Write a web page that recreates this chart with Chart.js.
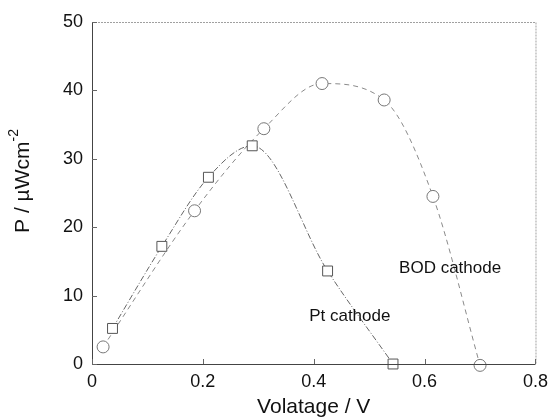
<!DOCTYPE html>
<html>
<head>
<meta charset="utf-8">
<script src="https://cdn.jsdelivr.net/npm/chart.js@4"></script>
<style>
  html, body { margin: 0; padding: 0; background: #fff; }
  #wrap { width: 555px; height: 420px; }
</style>
</head>
<body>
<div id="wrap"><canvas id="powerChart"></canvas></div>
<script>
// Pt cathode (squares)
const ptVoltage = [0.037, 0.126, 0.21, 0.289, 0.425, 0.543];
const ptPower = [5.2, 17.2, 27.3, 31.9, 13.6, 0];

// BOD cathode (circles)
const bodVoltage = [0.02, 0.185, 0.31, 0.415, 0.527, 0.615, 0.70];
const bodPower = [2.5, 22.4, 34.4, 41.0, 38.6, 24.5, -0.2];

const xTicks = [0, 0.2, 0.4, 0.6, 0.8];
const yTicks = [0, 10, 20, 30, 40, 50];

const notes = [
  { text: "BOD cathode", x: 0.646, y: 14.0 },
  { text: "Pt cathode", x: 0.465, y: 7.0 },
];

const FONT = "'Liberation Sans', Arial, sans-serif";

const toPoints = (xs, ys) => xs.map((x, i) => ({ x: x, y: ys[i] }));

// inward ticks, frame and text labels
const extrasPlugin = {
  id: "extras",
  afterDatasetsDraw(chart) {
    const ctx = chart.ctx;
    const area = chart.chartArea;
    const xs = chart.scales.x;
    const ys = chart.scales.y;
    ctx.save();
    // frame (top/right lighter)
    ctx.strokeStyle = "#a0a0a0";
    ctx.lineWidth = 1;
    ctx.setLineDash([2, 1]);
    ctx.beginPath();
    ctx.moveTo(area.left, area.top + 0.5);
    ctx.lineTo(area.right + 0.5, area.top + 0.5);
    ctx.lineTo(area.right + 0.5, area.bottom);
    ctx.stroke();
    ctx.setLineDash([]);
    ctx.strokeStyle = "#444";
    ctx.beginPath();
    ctx.moveTo(area.left + 0.5, area.top);
    ctx.lineTo(area.left + 0.5, area.bottom + 0.5);
    ctx.lineTo(area.right, area.bottom + 0.5);
    ctx.stroke();
    // ticks
    ctx.strokeStyle = "#666";
    ctx.beginPath();
    yTicks.forEach(v => {
      const p = Math.round(ys.getPixelForValue(v)) + 0.5;
      ctx.moveTo(area.left, p);
      ctx.lineTo(area.left + 5, p);
    });
    xTicks.forEach(v => {
      const p = Math.round(xs.getPixelForValue(v)) + 0.5;
      ctx.moveTo(p, area.bottom);
      ctx.lineTo(p, area.bottom - 5);
    });
    ctx.stroke();
    // annotations
    ctx.fillStyle = "#111";
    ctx.font = "17px " + FONT;
    ctx.textAlign = "center";
    ctx.textBaseline = "middle";
    notes.forEach(n => {
      ctx.fillText(n.text, xs.getPixelForValue(n.x), ys.getPixelForValue(n.y));
    });
    // y axis title with superscript
    ctx.translate(23, 181);
    ctx.rotate(-Math.PI / 2);
    const main = "P / \u00b5Wcm";
    const sup = "-2";
    ctx.font = "21px " + FONT;
    const wMain = ctx.measureText(main).width;
    ctx.font = "14px " + FONT;
    const wSup = ctx.measureText(sup).width;
    const start = -(wMain + wSup) / 2;
    ctx.textAlign = "left";
    ctx.font = "21px " + FONT;
    ctx.fillText(main, start, 0);
    ctx.font = "14px " + FONT;
    ctx.fillText(sup, start + wMain, -9);
    ctx.restore();
  },
};

const powerChart = new Chart(document.getElementById("powerChart"), {
  type: "line",
  data: {
    datasets: [
      {
        label: "Pt cathode",
        data: toPoints(ptVoltage, ptPower),
        borderColor: "#666",
        borderWidth: 1,
        borderDash: [6, 2, 1, 2],
        tension: 0.4,
        cubicInterpolationMode: "monotone",
        pointStyle: "rect",
        pointRadius: 7,
        pointBackgroundColor: "#fff",
        pointBorderColor: "#555",
        pointBorderWidth: 1,
        fill: false,
        clip: false,
      },
      {
        label: "BOD cathode",
        data: toPoints(bodVoltage, bodPower),
        borderColor: "#8a8a8a",
        borderWidth: 1,
        borderDash: [5, 4],
        tension: 0.4,
        cubicInterpolationMode: "monotone",
        pointStyle: "circle",
        pointRadius: 6,
        pointBackgroundColor: "#fff",
        pointBorderColor: "#777",
        pointBorderWidth: 1,
        fill: false,
        clip: false,
      },
    ],
  },
  options: {
    responsive: true,
    maintainAspectRatio: false,
    animation: false,
    layout: { padding: { top: 22, right: 17, left: 0, bottom: 0 } },
    plugins: {
      legend: { display: false },
      tooltip: { enabled: false },
    },
    scales: {
      x: {
        type: "linear",
        min: 0,
        max: 0.8,
        afterFit: (scale) => { scale.height = 56; },
        afterBuildTicks: (scale) => { scale.ticks = xTicks.map(v => ({ value: v })); },
        grid: { display: false, drawTicks: false },
        border: { display: false },
        ticks: {
          padding: 7,
          color: "#111",
          font: { size: 18, family: FONT },
          callback: (v) => (v === 0 ? "0" : v.toFixed(1)),
        },
        title: {
          display: true,
          text: "Volatage / V",
          color: "#111",
          padding: { top: 0, bottom: 0 },
          font: { size: 21, family: FONT },
        },
      },
      y: {
        type: "linear",
        min: 0,
        max: 50,
        afterFit: (scale) => { scale.width = 92; },
        afterBuildTicks: (scale) => { scale.ticks = yTicks.map(v => ({ value: v })); },
        grid: { display: false, drawTicks: false },
        border: { display: false },
        ticks: {
          padding: 9,
          color: "#111",
          font: { size: 18, family: FONT },
        },
      },
    },
  },
  plugins: [extrasPlugin],
});
</script>
</body>
</html>
